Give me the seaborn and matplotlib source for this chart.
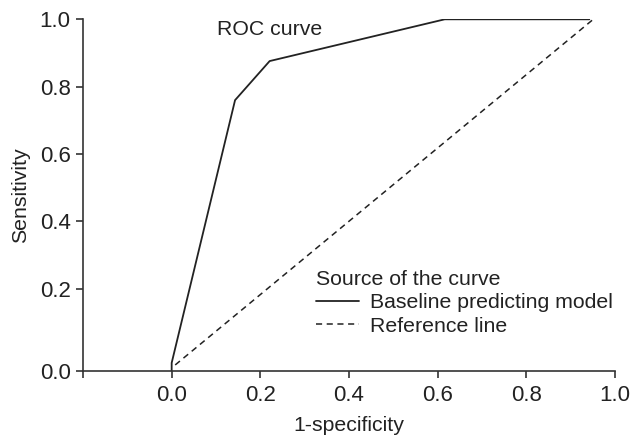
import matplotlib
matplotlib.use("Agg")
import matplotlib.pyplot as plt
import seaborn as sns
import pandas as pd

# ---- data ----
roc_x = [0.0, 0.0, 0.143, 0.221, 0.616, 0.942]
roc_y = [-0.044, -0.02, 0.76, 0.876, 1.0, 1.0]
ref_x = [0.008, 0.951]
ref_y = [-0.026, 1.0]
series_names = ["Baseline predicting model", "Reference line"]
x_ticks = [-0.2, 0.0, 0.2, 0.4, 0.6, 0.8, 1.0]
x_tick_labels = ["", "0.0", "0.2", "0.4", "0.6", "0.8", "1.0"]
y_ticks = [-0.044, 0.2, 0.4, 0.6, 0.8, 1.0]
y_tick_labels = ["0.0", "0.2", "0.4", "0.6", "0.8", "1.0"]

sns.set_theme(style="ticks")
plt.rcParams["font.family"] = ["Liberation Sans", "DejaVu Sans"]
ink = "#222222"
fs = 15.3
tfs = 16

fig = plt.figure(figsize=(6.33, 4.37), dpi=100)
ax = fig.add_axes([83 / 633, 1 - 371 / 437, (615 - 83) / 633, (371 - 19.3) / 437])

df_roc = pd.DataFrame({"x": roc_x, "y": roc_y})
df_ref = pd.DataFrame({"x": ref_x, "y": ref_y})
sns.lineplot(data=df_roc, x="x", y="y", ax=ax, color=ink, lw=1.3,
             sort=False, estimator=None, label=series_names[0])
sns.lineplot(data=df_ref, x="x", y="y", ax=ax, color=ink, lw=1.1,
             sort=False, estimator=None, label=series_names[1])
ax.lines[1].set_dashes([4, 3])

ax.set_xlim(-0.2, 1.0)
ax.set_ylim(-0.044, 1.0)
ax.set_xticks(x_ticks)
ax.set_xticklabels(x_tick_labels)
ax.set_yticks(y_ticks)
ax.set_yticklabels(y_tick_labels)
ax.tick_params(axis="both", labelsize=tfs, colors=ink, length=5, width=1.1)
ax.tick_params(axis="x", pad=5)
ax.tick_params(axis="y", pad=4)

for s in ["top", "right"]:
    ax.spines[s].set_visible(False)
for s in ["left", "bottom"]:
    ax.spines[s].set_color("#333333")
    ax.spines[s].set_linewidth(1.2)

ax.set_xlabel("1-specificity", fontsize=fs, color=ink, labelpad=7)
ax.set_ylabel("Sensitivity", fontsize=fs, color=ink, labelpad=7)

ax.text(0.102, 0.970, "ROC curve", fontsize=fs, color=ink, ha="left", va="center")

leg = ax.legend(title="Source of the curve", loc="upper left",
                bbox_to_anchor=(316 / 633, 1 - 270 / 437), bbox_transform=fig.transFigure,
                frameon=False, fontsize=fs, title_fontsize=fs, alignment="left",
                handlelength=2.0, handletextpad=0.55, labelspacing=0.2, borderpad=0,
                borderaxespad=0)
for t in leg.get_texts():
    t.set_color(ink)
leg.get_title().set_color(ink)

fig.savefig("out.png", dpi=100)
